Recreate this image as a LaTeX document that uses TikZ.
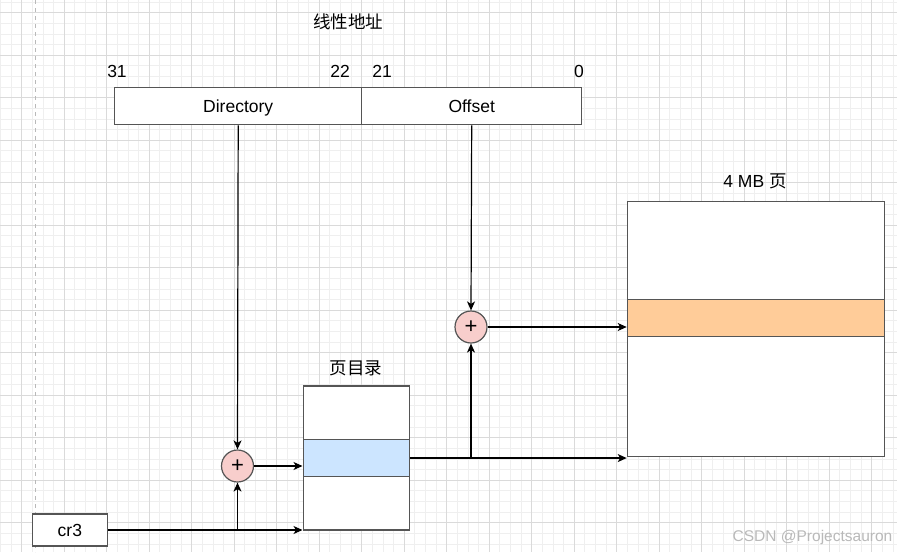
\documentclass[tikz,border=0pt]{standalone}
\usepackage{fontspec}
\setmainfont{Liberation Sans}
\newfontfamily\cjk{Noto Sans CJK SC}
\usetikzlibrary{arrows.meta}
\definecolor{boxline}{HTML}{555555}
\definecolor{bluefill}{HTML}{CCE5FF}
\definecolor{orangefill}{HTML}{FFCC99}
\definecolor{redfill}{HTML}{F8CECC}
\definecolor{gridminor}{HTML}{EFEFEF}
\definecolor{gridmajor}{HTML}{DADADA}
\begin{document}
\begin{tikzpicture}[x=1pt,y=-1pt,
  every node/.style={font=\fontsize{17.5}{20}\selectfont, inner sep=0pt},
  cell/.style={draw=boxline, line width=1.4pt, fill=white, rectangle, anchor=north west, text height=12.6pt, text depth=0pt},
  adder/.style={circle, draw=boxline, line width=1.2pt, fill=redfill, minimum size=32pt, font=\fontsize{22}{22}\selectfont},
  lbl/.style={},
  conn/.style={draw=black, line width=1.2pt},
  arr/.style={conn, -{Stealth[length=9pt,width=8pt,inset=2.5pt]}}]
\useasboundingbox (0,0) rectangle (897,552);
\fill[white] (0,0) rectangle (897,552);
% grid
\foreach \i in {0,...,84} {
  \draw[gridminor, line width=0.8pt] ({0.45+\i*10.625},0) -- ({0.45+\i*10.625},552);
}
\foreach \i in {0,...,52} {
  \draw[gridminor, line width=0.8pt] (0,{2.075+\i*10.625}) -- (897,{2.075+\i*10.625});
}
\foreach \i in {0,...,20} {
  \draw[gridmajor, line width=0.9pt] ({21.7+\i*42.5},0) -- ({21.7+\i*42.5},552);
}
\foreach \i in {0,...,12} {
  \draw[gridmajor, line width=0.9pt] (0,{12.7+\i*42.5}) -- (897,{12.7+\i*42.5});
}
\draw[gray!55, line width=1pt, dash pattern=on 4pt off 4pt] (35,0) -- (35,552);

% title and bit numbers
\node[lbl] (title) at (348,22) {\cjk 线性地址};
\node[lbl] (b31) at (117,71) {31};
\node[lbl] (b22) at (340,71) {22};
\node[lbl] (b21) at (382,71) {21};
\node[lbl] (b0) at (579,71) {0};

% linear address fields
\node[cell, minimum width=247pt, minimum height=37pt] (dir) at (114,87) {Directory};
\node[cell, minimum width=220pt, minimum height=37pt] (off) at (361,87) {Offset};

% adders
\node[adder] (c1) at (237.5,466) {+};
\node[adder] (c2) at (471,327) {+};

% page directory
\node[lbl] (pdl) at (356,368) {\cjk 页目录};
\node[cell, minimum width=106.5pt, minimum height=53.4pt] (pd1) at (302.5,385.3) {};
\node[cell, fill=bluefill, minimum width=106.5pt, minimum height=37.3pt] (pd2) at (302.5,438.7) {};
\node[cell, minimum width=106.5pt, minimum height=53.3pt] (pd3) at (302.5,476) {};

% 4 MB page
\node[lbl] (pgl) at (755,181) {4 MB {\cjk 页}};
\node[cell, minimum width=257.3pt, minimum height=98pt] (pg1) at (626.7,200.7) {};
\node[cell, fill=orangefill, minimum width=257.3pt, minimum height=37.3pt] (pg2) at (626.7,298.7) {};
\node[cell, minimum width=257.3pt, minimum height=119.7pt] (pg3) at (626.7,336) {};

% cr3
\node[cell, minimum width=75pt, minimum height=32pt] (cr3) at (31.7,513.3) {cr3};

% connectors
\draw[arr] (dir.south) -- (c1.north);
\draw[arr] (off.south) -- (c2.north);
\draw[arr] (c1.east) -- (c1.east -| pd2.west);
\draw[arr] (cr3.east) -- (cr3.east -| pd3.south west);
\coordinate (j1) at (c1 |- cr3.east);
\draw[arr] (j1) -- (c1.south);
\draw[arr] (pd2.east) -- (pd2.east -| pg3.south west);
\coordinate (j2) at (c2 |- pd2.east);
\draw[arr] (j2) -- (c2.south);
\draw[arr] (c2.east) -- (c2.east -| pg2.west);

% watermark
\node[text=gray!55, font=\fontsize{15.5}{18}\selectfont] (wm) at (812.5,537) {CSDN @Projectsauron};
\end{tikzpicture}
\end{document}
